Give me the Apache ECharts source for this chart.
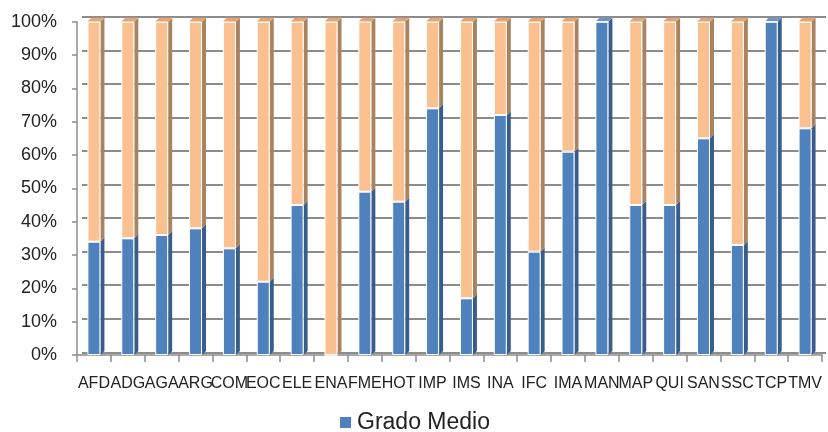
<!DOCTYPE html>
<html>
<head>
<meta charset="utf-8">
<script src="https://cdn.jsdelivr.net/npm/echarts@6/dist/echarts.min.js"></script>
<style>html,body{margin:0;padding:0;background:#fff}#c{width:828px;height:432px}</style>
</head>
<body>
<div id="c"></div>
<script>
var categories = ['AFD','ADG','AGA','ARG','COM','EOC','ELE','ENA','FME','HOT','IMP','IMS','INA','IFC','IMA','MAN','MAP','QUI','SAN','SSC','TCP','TMV'];
var gradoMedio    = [34, 35, 36, 38, 32, 22, 45, 0, 49, 46, 74, 17, 72, 31, 61, 100, 45, 45, 65, 33, 100, 68];
var gradoSuperior = [66, 65, 64, 62, 68, 78, 55, 100, 51, 54, 26, 83, 28, 69, 39, 0, 55, 55, 35, 67, 0, 32];
var yTicks = [0, 10, 20, 30, 40, 50, 60, 70, 80, 90, 100];

var BLUE = '#4f81bd', BLUE_SIDE = '#385d8a', BLUE_TOP = '#6f95c8';
var ORANGE = '#fac090', ORANGE_SIDE = '#a98260', ORANGE_TOP = '#e2a676';
var BAR_W = 13, DX = 4, DY = -4;

var chart = echarts.init(document.getElementById('c'));

function renderSides(params, api) {
  var i = api.value(0), m = api.value(1), s = api.value(2);
  var p0 = api.coord([i, 0]), pm = api.coord([i, m]), pt = api.coord([i, m + s]);
  var xl = p0[0] - BAR_W / 2, xr = p0[0] + BAR_W / 2;
  var ch = [];
  if (m > 0) ch.push({type: 'polygon', shape: {points: [[xr, p0[1]], [xr + DX, p0[1] + DY], [xr + DX, pm[1] + DY], [xr, pm[1]]]}, style: {fill: BLUE_SIDE}});
  if (s > 0) ch.push({type: 'polygon', shape: {points: [[xr, pm[1]], [xr + DX, pm[1] + DY], [xr + DX, pt[1] + DY], [xr, pt[1]]]}, style: {fill: ORANGE_SIDE}});
  ch.push({type: 'polygon', shape: {points: [[xl, pt[1]], [xl + DX, pt[1] + DY], [xr + DX, pt[1] + DY], [xr, pt[1]]]}, style: {fill: s > 0 ? ORANGE_TOP : BLUE_TOP}});
  return {type: 'group', children: ch};
}

var FONT = "'Liberation Sans', Arial, sans-serif";
chart.setOption({
  animation: false,
  backgroundColor: '#ffffff',
  legend: {
    data: ['Grado Medio'],
    left: 'center', top: 406,
    icon: 'rect', itemWidth: 13, itemHeight: 13, itemGap: 8,
    textStyle: {fontSize: 23, color: '#222', fontFamily: FONT}
  },
  grid: [
    {left: 82, right: 2, top: 16.7, bottom: 79.7},
    {left: 77, right: 6, top: 21.7, bottom: 77}
  ],
  xAxis: [
    {gridIndex: 0, type: 'category', data: categories, show: false},
    {gridIndex: 1, type: 'category', data: categories,
     axisLine: {show: true, lineStyle: {color: '#8c8c8c', width: 1.5}},
     axisTick: {show: true, length: 7, alignWithLabel: false, lineStyle: {color: '#8c8c8c', width: 1.5}},
     axisLabel: {interval: 0, hideOverlap: false, margin: 21, fontSize: 16, color: '#222', fontFamily: FONT}}
  ],
  yAxis: [
    {gridIndex: 0, type: 'value', min: 0, max: 100, interval: 10,
     axisLine: {show: false}, axisTick: {show: false}, axisLabel: {show: false},
     splitLine: {show: true, lineStyle: {color: '#8c8c8c', width: 2}}},
    {gridIndex: 1, type: 'value', min: 0, max: 100, interval: 10,
     axisLine: {show: true, lineStyle: {color: '#8c8c8c', width: 1.5}},
     axisTick: {show: true, length: 5, lineStyle: {color: '#8c8c8c', width: 1.5}},
     splitLine: {show: false},
     axisLabel: {formatter: function (v) { return yTicks.indexOf(v) >= 0 ? v + '%' : ''; },
                 margin: 20, fontSize: 18, color: '#222', fontFamily: FONT}}
  ],
  series: [
    {name: 'Grado Medio', type: 'bar', stack: 'total', xAxisIndex: 1, yAxisIndex: 1,
     barWidth: BAR_W, data: gradoMedio,
     itemStyle: {color: BLUE, borderColor: '#ffffff', borderWidth: 1}},
    {name: 'Grado Superior', type: 'bar', stack: 'total', xAxisIndex: 1, yAxisIndex: 1,
     barWidth: BAR_W, data: gradoSuperior,
     itemStyle: {color: ORANGE, borderColor: '#ffffff', borderWidth: 1}},
    {name: 'sides', type: 'custom', xAxisIndex: 1, yAxisIndex: 1, silent: true,
     renderItem: renderSides,
     encode: {x: 0, y: 1},
     data: categories.map(function (c, i) { return [i, gradoMedio[i], gradoSuperior[i]]; }),
     z: 1}
  ]
});
</script>
</body>
</html>
